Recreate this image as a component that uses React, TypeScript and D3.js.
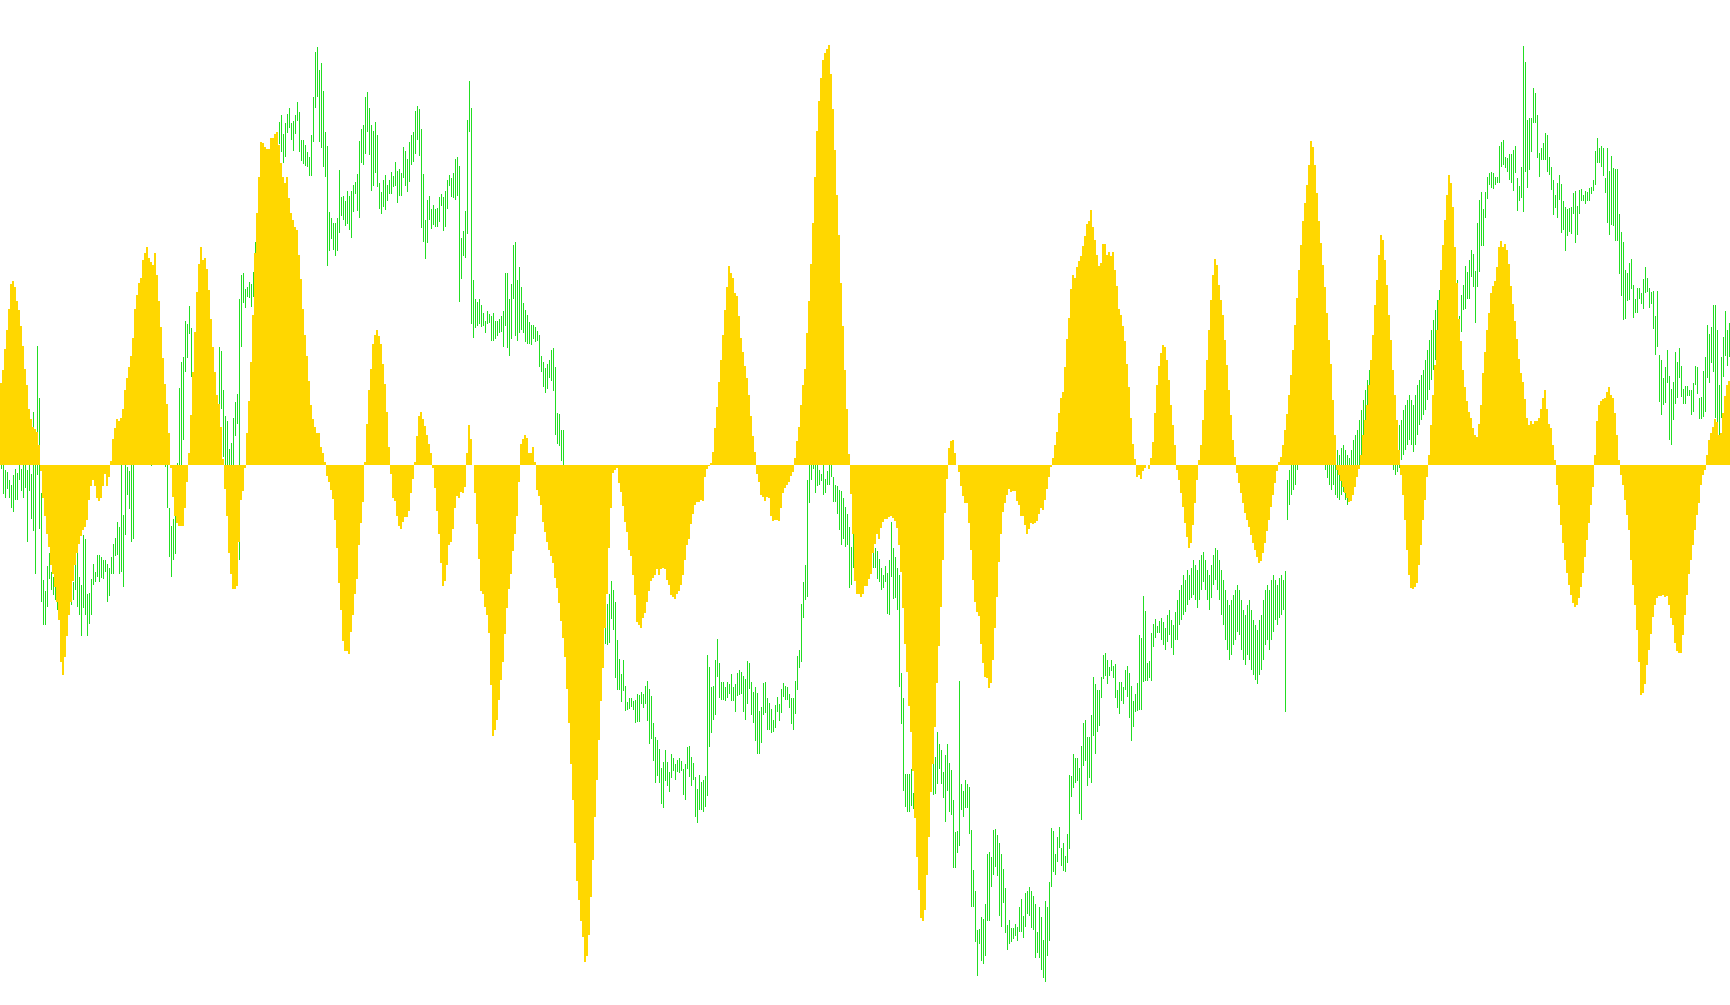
import React from 'react';
import * as d3 from 'd3';

const WIDTH = 1730;
const HEIGHT = 1005;
const TOTAL_BARS = 865;

// price bar highs (points)
const highs: number[] = [
542,542,530,528,520,515,525,531,527,542,531,542,542,530,542,526,588,560,654,602,
507,420,409,434,447,428,423,420,415,410,405,400,405,410,415,418,418,440,447,423,
415,465,461,406,407,421,436,428,445,445,443,440,440,436,432,443,456,462,478,473,
542,485,542,533,529,542,542,590,600,610,620,615,620,610,605,580,590,600,595,585,
580,570,560,542,492,474,481,484,537,612,638,643,679,676,694,672,620,640,660,670,
680,690,700,690,680,670,650,625,605,653,649,610,584,579,551,557,582,598,606,701,
725,727,711,713,718,716,728,758,780,800,820,830,835,840,840,850,855,860,865,878,
885,866,877,886,892,877,879,885,898,888,860,860,855,848,843,865,903,948,953,930,
937,909,868,854,788,782,777,777,782,830,803,804,799,809,804,809,815,818,826,859,
871,875,903,908,892,875,869,878,865,817,808,820,825,815,820,828,824,838,829,831,
827,853,849,841,858,865,868,889,894,891,871,826,780,800,804,791,795,791,792,803,
806,803,809,820,825,822,827,841,843,834,762,769,789,880,919,892,720,701,698,701,
695,687,679,689,686,684,687,679,679,681,684,689,727,727,701,716,755,758,720,733,
713,697,690,685,678,675,675,673,669,665,644,638,632,636,640,650,652,633,587,586,
570,570,530,520,510,505,500,490,480,475,470,460,455,450,440,435,430,420,410,405,
395,385,373,396,406,419,410,398,360,341,326,340,314,298,302,302,299,300,306,305,
308,306,314,319,311,304,277,263,260,251,232,238,250,238,228,246,242,236,240,242,
239,231,236,253,254,243,237,223,211,225,218,220,224,345,333,313,314,340,361,337,
318,318,313,318,316,326,313,316,327,330,328,324,321,339,337,318,308,313,307,289,
293,317,318,302,297,291,280,295,303,296,311,317,314,313,306,302,302,319,344,350,
396,418,435,520,542,542,542,542,542,530,526,542,521,529,542,542,523,515,514,510,
509,502,493,486,473,453,466,443,450,455,452,450,448,452,450,447,466,452,449,441,
432,425,434,427,440,478,452,443,432,425,327,302,226,226,226,231,207,215,220,225,
230,228,232,235,238,236,245,243,268,256,250,228,245,256,237,230,200,168,169,319,
216,209,220,216,213,170,130,109,70,71,83,81,96,146,148,143,170,171,165,157,
146,131,112,75,80,72,72,76,73,93,101,84,107,109,113,109,104,96,68,93,
83,60,99,93,118,172,169,146,163,173,152,157,144,166,225,224,246,242,242,232,
254,277,280,263,263,285,323,316,310,310,323,345,347,340,333,340,334,336,310,318,
318,313,330,334,327,314,299,306,317,365,362,404,389,337,339,367,376,381,374,379,
382,378,372,385,390,380,375,388,400,410,415,425,420,430,425,432,440,435,430,440,
445,448,440,430,425,435,445,452,450,440,430,420,410,400,395,400,405,410,415,410,
400,390,385,395,400,390,380,375,370,380,385,400,410,415,410,420,425,420,415,422,
425,420,429,520,530,545,555,560,570,580,590,600,605,610,620,625,620,615,610,605,
600,590,580,570,560,555,560,555,550,545,552,555,550,545,542,550,560,565,570,580,
590,600,610,620,630,635,640,645,650,655,650,640,630,620,610,600,590,580,570,575,
580,590,595,600,605,600,595,605,615,620,625,630,640,650,660,670,680,690,700,710,
720,730,740,745,750,745,740,730,720,684,705,715,734,728,740,750,746,729,777,800,
808,791,808,823,827,828,827,823,823,854,858,860,843,842,846,846,850,854,822,814,
833,954,938,880,882,882,912,907,885,847,852,857,867,865,843,833,820,805,817,825,
816,799,793,791,792,793,807,809,794,810,811,805,809,808,812,813,820,849,862,852,
854,852,822,852,829,844,832,831,831,786,768,758,730,727,737,741,715,701,712,712,
707,721,733,722,712,708,709,684,709,645,640,622,633,650,624,611,618,648,638,652,
634,611,614,614,610,610,617,634,633,602,603,629,643,675,666,673,695,695,670,615,
643,663,689,670,677
];

// price bar lows (points)
const lows: number[] = [
531,506,502,511,502,492,488,500,500,520,509,502,512,458,509,481,469,426,525,471,
398,375,375,393,421,410,405,400,390,380,370,365,372,385,390,395,400,410,393,385,
364,392,385,364,376,385,415,418,423,418,422,421,428,398,404,426,426,444,445,426,
428,413,465,505,491,458,461,540,545,550,560,555,560,550,545,534,540,545,540,538,
537,536,533,492,443,423,440,446,485,520,530,560,628,642,666,623,580,590,600,610,
620,630,640,630,620,610,600,580,560,596,591,543,530,528,525,522,525,564,576,440,
653,697,692,703,702,693,703,747,750,760,770,780,785,790,795,800,810,820,830,856,
848,837,843,867,872,860,849,866,879,848,839,836,834,833,824,824,858,892,903,858,
852,833,823,734,749,761,750,744,749,767,784,780,774,776,770,762,788,806,789,782,
837,835,846,868,845,809,814,827,813,791,786,793,790,799,806,806,813,814,797,804,
804,822,814,808,818,835,838,846,860,844,772,758,741,757,780,771,775,773,773,778,
794,769,773,791,814,803,802,800,804,698,721,744,742,766,868,676,662,672,674,676,
673,674,667,676,677,659,659,661,664,667,668,653,674,652,644,661,701,664,659,667,
670,667,658,656,656,655,661,658,659,633,628,613,607,611,622,619,609,565,556,554,
539,520,490,480,470,460,455,445,440,430,425,415,410,405,400,395,390,385,380,370,
365,360,356,355,357,381,370,322,310,310,298,309,289,290,291,293,290,277,278,278,
296,292,296,279,256,261,239,217,224,217,196,192,219,214,208,222,229,220,228,227,
229,205,200,231,223,214,220,183,177,190,190,188,193,204,253,267,280,285,323,302,
300,300,299,302,306,299,299,288,304,305,306,288,280,296,311,285,277,259,246,246,
257,285,287,270,270,267,268,272,288,279,287,303,300,300,292,276,270,286,310,332,
338,382,400,403,497,520,531,507,514,515,519,505,507,515,515,523,498,498,486,470,
455,461,453,455,412,415,432,433,425,428,425,422,425,428,425,426,432,432,421,418,
410,412,418,386,385,423,401,402,390,313,276,209,193,188,188,194,191,185,190,195,
200,195,200,202,205,209,205,206,216,231,216,202,178,209,188,185,132,132,147,154,
190,183,192,192,166,93,93,58,24,56,39,36,44,79,79,113,125,133,124,84,
73,97,67,50,56,58,61,64,59,68,68,62,73,86,84,72,70,42,47,42,
30,22,18,44,59,113,128,125,138,152,134,129,128,137,151,203,212,217,219,186,
180,234,239,214,222,217,264,246,268,274,302,321,324,316,324,329,322,302,292,286,
299,296,310,303,282,259,273,288,289,290,290,318,319,319,322,319,353,362,367,367,
360,355,350,358,365,352,345,360,360,375,380,385,388,395,400,402,405,400,392,400,
410,418,410,400,390,402,415,420,410,400,385,375,360,350,340,345,355,360,368,365,
350,340,335,345,340,330,325,320,316,325,330,340,355,360,350,360,368,380,375,382,
385,390,288,480,495,505,510,515,530,535,540,550,555,560,570,575,570,560,555,550,
545,538,530,522,515,510,515,505,502,500,505,508,500,495,498,505,512,520,525,532,
540,548,555,560,570,575,580,585,590,595,590,580,570,560,550,540,530,525,528,532,
540,545,550,555,560,555,548,555,565,575,580,585,590,600,610,620,630,640,650,660,
670,680,690,695,700,695,690,685,680,600,668,690,691,701,701,723,713,677,713,728,
754,754,782,801,815,812,811,815,817,817,833,835,832,828,820,817,809,827,789,799,
802,788,828,812,830,848,877,877,842,823,840,840,840,828,825,810,785,792,782,800,
767,770,749,764,768,766,786,757,765,786,799,799,796,799,799,806,809,815,837,837,
833,824,807,777,765,775,774,759,759,726,704,680,681,699,700,711,682,687,687,701,
696,691,707,708,692,696,671,645,653,598,585,595,597,617,560,555,580,596,602,622,
603,596,596,604,604,585,588,615,606,581,581,583,588,622,617,637,628,582,575,555,
582,623,644,634,643
];

// oscillator histogram
const osc: number[] = [
82,95,116,135,156,181,184,178,164,155,139,119,96,80,56,46,38,36,33,20,
-6,-33,-51,-69,-82,-100,-109,-122,-137,-155,-197,-210,-192,-171,-150,-137,-116,-100,-88,-79,
-71,-65,-62,-55,-35,-21,-15,-21,-33,-36,-33,-21,-9,-21,-12,4,26,37,46,44,
47,56,75,87,98,109,127,156,170,182,187,205,212,218,207,203,200,212,190,164,
138,107,81,61,32,-3,-32,-51,-58,-61,-61,-61,-43,-17,12,50,93,133,173,201,
218,205,207,196,175,146,118,93,70,61,38,6,-24,-51,-88,-109,-124,-124,-121,-77,
-35,-26,-3,32,64,103,150,212,252,288,323,322,318,316,316,327,327,331,333,320,
302,288,282,288,267,252,245,238,235,210,186,156,130,109,84,60,46,38,32,32,
18,12,3,-11,-17,-25,-34,-55,-83,-118,-145,-176,-186,-186,-189,-167,-150,-129,-114,-80,
-58,-37,3,41,75,96,121,130,135,129,121,101,81,53,18,-9,-33,-36,-51,-61,
-64,-57,-52,-52,-46,-28,-14,3,29,49,53,46,39,30,21,12,-3,-23,-46,-69,
-98,-121,-116,-100,-80,-77,-64,-43,-31,-33,-27,-28,-22,12,40,26,0,-28,-59,-94,
-126,-129,-142,-150,-168,-220,-271,-265,-255,-235,-215,-197,-169,-143,-124,-109,-86,-69,-51,-17,
21,26,30,27,12,12,18,3,-25,-31,-40,-57,-67,-77,-85,-91,-98,-113,-123,-138,
-156,-173,-192,-224,-258,-299,-335,-378,-416,-435,-456,-472,-497,-491,-470,-432,-395,-352,-315,-275,
-236,-203,-163,-129,-83,-43,-8,-5,-3,-18,-27,-41,-57,-67,-85,-91,-110,-130,-157,-160,
-163,-153,-148,-137,-126,-116,-113,-110,-104,-110,-104,-103,-104,-115,-120,-130,-132,-134,-129,-126,
-120,-110,-95,-80,-74,-59,-49,-40,-37,-37,-35,-36,-12,-4,-1,2,13,37,58,83,
105,130,155,178,199,192,187,172,169,149,127,113,99,87,70,49,29,13,-9,-17,
-30,-32,-36,-32,-33,-51,-56,-55,-55,-56,-43,-28,-23,-20,-17,-11,-7,7,24,38,
60,80,96,132,164,201,242,288,334,364,387,405,412,416,420,391,356,315,270,230,
182,139,95,56,11,-29,-69,-116,-129,-129,-132,-129,-121,-121,-114,-109,-88,-79,-69,-74,
-63,-57,-54,-54,-52,-51,-53,-56,-63,-80,-107,-143,-179,-207,-241,-267,-306,-353,-392,-425,
-453,-456,-445,-410,-372,-327,-299,-262,-218,-181,-142,-95,-48,-14,17,24,25,12,0,-7,
-21,-31,-38,-38,-58,-85,-115,-137,-147,-151,-179,-198,-212,-213,-223,-218,-195,-163,-132,-97,
-69,-47,-38,-30,-24,-27,-26,-26,-36,-40,-51,-51,-60,-69,-64,-58,-59,-58,-56,-49,
-43,-45,-35,-24,-12,-2,7,20,33,52,67,73,98,126,147,176,190,187,198,204,
209,219,229,241,244,255,238,225,210,199,202,221,221,210,213,209,213,195,179,156,
150,139,124,101,78,47,21,6,-12,-10,-14,-6,-3,0,-4,7,23,52,80,99,
112,120,118,105,85,60,40,20,-5,-15,-28,-42,-58,-72,-83,-78,-60,-38,-15,5,
20,45,75,105,135,165,190,206,200,180,165,150,125,100,75,50,25,8,-8,-18,
-28,-38,-48,-55,-62,-70,-78,-85,-92,-98,-96,-88,-78,-66,-55,-42,-30,-18,-6,3,
8,20,35,51,70,90,115,140,167,195,220,244,262,280,300,324,318,300,272,244,
222,200,178,152,125,101,65,30,-5,-10,-16,-22,-28,-33,-37,-36,-30,-22,-12,-4,
10,30,45,60,80,105,130,160,185,210,230,225,205,180,150,125,95,70,45,15,
-10,-30,-55,-85,-110,-123,-124,-122,-118,-100,-80,-55,-35,-12,10,40,70,100,135,165,
195,220,245,270,290,282,258,218,182,146,124,95,78,64,53,47,37,30,28,41,
60,92,113,135,152,172,179,184,198,218,224,218,221,215,201,179,161,144,126,106,
92,83,66,47,40,44,41,44,44,47,56,67,75,56,41,37,20,5,-20,-40,
-60,-78,-95,-108,-120,-130,-138,-142,-140,-133,-122,-108,-92,-75,-58,-40,-22,10,44,60,
64,66,67,73,78,70,67,52,30,5,-10,-20,-35,-50,-65,-95,-120,-140,-165,-197,
-230,-228,-219,-200,-185,-169,-152,-140,-133,-131,-131,-130,-132,-131,-140,-153,-160,-178,-186,-188,
-188,-170,-150,-130,-109,-95,-80,-65,-50,-38,-20,-10,-5,10,25,32,38,46,43,30,
32,52,69,80,84
];

export default function App() {
  const n = Math.min(highs.length, lows.length, osc.length);
  const x = d3.scaleBand<number>().domain(d3.range(TOTAL_BARS)).range([0, WIDTH]).padding(0);
  const yPrice = d3.scaleLinear().domain([0, 1000]).range([1000, 0]);
  const yOsc = d3.scaleLinear().domain([-500, 500]).range([965, -35]);
  const zero = yOsc(0);
  const bw = x.bandwidth();
  const idx = d3.range(n);

  return (
    <svg
      width={WIDTH}
      height={HEIGHT}
      style={{ position: 'absolute', left: 0, top: 0, display: 'block', background: '#ffffff' }}
      shapeRendering="crispEdges"
    >
      <g>
        {idx.map((i) => {
          const y1 = yPrice(highs[i]);
          const y2 = yPrice(lows[i]);
          return (
            <rect key={i} x={(x(i) as number) + bw / 2} width={1} y={y1} height={Math.max(1, y2 - y1)} fill="#22dd22" />
          );
        })}
      </g>
      <g>
        {idx.map((i) => {
          const v = osc[i];
          if (v === 0) return null;
          const yv = yOsc(v);
          return (
            <rect key={i} x={x(i) as number} width={bw} y={Math.min(yv, zero)} height={Math.abs(yv - zero)} fill="#ffd700" />
          );
        })}
      </g>
    </svg>
  );
}
